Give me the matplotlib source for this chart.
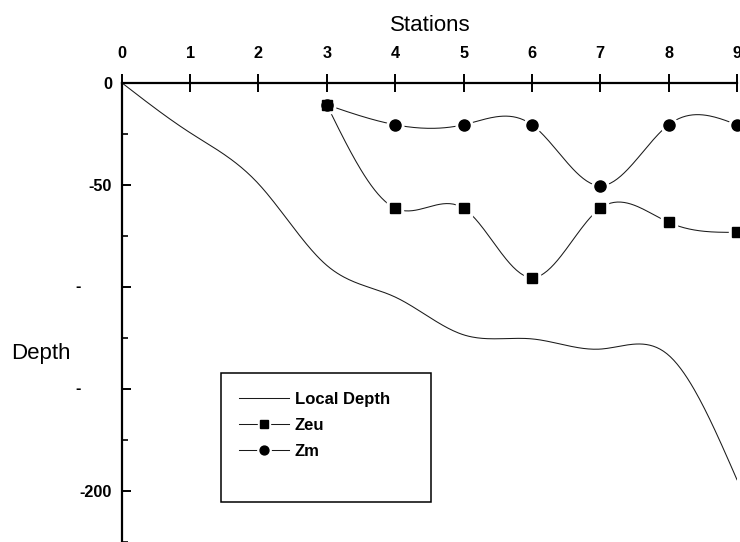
import matplotlib
matplotlib.use('Agg')
import matplotlib.pyplot as plt
from matplotlib.patches import Rectangle
import numpy as np

plt.rcParams['font.family'] = ['Liberation Sans', 'DejaVu Sans']

# data
stations = [0, 1, 2, 3, 4, 5, 6, 7, 8, 9]
local_depth = [0, -24.5, -49.5, -89.5, -105, -123.5, -125.5, -130.5, -133.5, -194.5]
zeu_st = [3, 4, 5, 6, 7, 8, 9]
zeu = [-10.8, -61.5, -61.5, -95.5, -61.5, -68.4, -73.3]
zm_st = [3, 4, 5, 6, 7, 8, 9]
zm = [-10.8, -20.6, -20.6, -20.6, -50.5, -20.6, -20.6]
ytick_vals = [0, -50, -100, -150, -200]
ytick_text = ['0', '-50', '', '', '-200']


def spline(x, y, n=40):
    # natural cubic spline, used only to smooth the drawn line
    x = np.asarray(x, float)
    y = np.asarray(y, float)
    k = len(x)
    h = np.diff(x)
    A = np.zeros((k, k))
    r = np.zeros(k)
    A[0, 0] = A[-1, -1] = 1
    for i in range(1, k - 1):
        A[i, i - 1] = h[i - 1]
        A[i, i] = 2 * (h[i - 1] + h[i])
        A[i, i + 1] = h[i]
        r[i] = 6 * ((y[i + 1] - y[i]) / h[i] - (y[i] - y[i - 1]) / h[i - 1])
    M = np.linalg.solve(A, r)
    xs = np.linspace(x[0], x[-1], n * (k - 1) + 1)
    j = np.clip(np.searchsorted(x, xs) - 1, 0, k - 2)
    hj = h[j]
    a = (x[j + 1] - xs) / hj
    b = (xs - x[j]) / hj
    ys = a * y[j] + b * y[j + 1] + ((a ** 3 - a) * M[j] + (b ** 3 - b) * M[j + 1]) * hj ** 2 / 6
    return xs, ys


fig = plt.figure(figsize=(7.4, 5.42), dpi=100)
ax = fig.add_axes([121.7 / 740, 0, 615.3 / 740, 459.3 / 542])

lc = '#1a1a1a'
xs, ys = spline(stations, local_depth)
l_depth, = ax.plot(xs, ys, color=lc, lw=0.75, label='Local Depth')

xs, ys = spline(zeu_st, zeu)
l_zeu, = ax.plot(xs, ys, color=lc, lw=0.75)
h_zeu, = ax.plot(zeu_st, zeu, ls='none', marker='s', ms=11, mfc='white', mec='white', zorder=3, clip_on=False)
m_zeu, = ax.plot(zeu_st, zeu, ls='none', marker='s', ms=7.3, mfc='black', mec='black', zorder=4, clip_on=False)

xs, ys = spline(zm_st, zm)
l_zm, = ax.plot(xs, ys, color=lc, lw=0.75)
h_zm, = ax.plot(zm_st, zm, ls='none', marker='o', ms=12, mfc='white', mec='white', zorder=3, clip_on=False)
m_zm, = ax.plot(zm_st, zm, ls='none', marker='o', ms=8, mfc='black', mec='black', zorder=4, clip_on=False)

ax.set_xlim(0, 9)
ax.set_ylim(-222.3, 0)

for s in ['right', 'bottom']:
    ax.spines[s].set_visible(False)
for s in ['left', 'top']:
    ax.spines[s].set_linewidth(1.6)

ax.xaxis.tick_top()
ax.set_xticks(stations)
ax.tick_params(axis='x', direction='inout', length=13.5, width=1.4, pad=9,
               labelsize=11.7)
for t in ax.get_xticklabels():
    t.set_fontweight('bold')

ax.set_yticks(ytick_vals)
ax.set_yticklabels(ytick_text)
ax.set_yticks(np.arange(-225, 0, 50), minor=True)
ax.tick_params(axis='y', which='major', direction='in', length=6.5, width=1.4, pad=7,
               labelsize=11.7)
ax.tick_params(axis='y', which='minor', direction='in', length=4, width=1.2)
for t in ax.get_yticklabels():
    t.set_fontweight('bold')
# faded labels at -100 and -150 show only their minus sign
for v in [-100, -150]:
    ax.text(-0.0759, v, '-', transform=ax.get_yaxis_transform(), ha='left', va='center',
            fontsize=11.7, fontweight='bold', clip_on=False)

ax.set_xlabel('Stations', fontsize=16)
ax.xaxis.set_label_position('top')
ax.xaxis.set_label_coords(0.501, 1.125)
ax.xaxis.label.set_va('center')
ax.set_ylabel('Depth', fontsize=16, rotation=0, ha='center', va='center')
ax.yaxis.set_label_coords(-0.131, 0.411)

fig.patches.append(Rectangle((220.7 / 740, 1 - 501.7 / 542), 210 / 740, 129 / 542,
                             transform=fig.transFigure, fill=False, ec='black', lw=1.1))
leg = ax.legend([l_depth, (l_zeu, h_zeu, m_zeu), (l_zm, h_zm, m_zm)],
                ['Local Depth', 'Zeu', 'Zm'],
                loc='upper left', bbox_to_anchor=(239 / 740, 1 - 392 / 542),
                bbox_transform=fig.transFigure, frameon=False, borderpad=0,
                borderaxespad=0, handlelength=3.0, handletextpad=0.35,
                labelspacing=0.65, numpoints=1, markerscale=0.8,
                prop={'size': 12, 'weight': 'bold'})

fig.savefig('out.png', dpi=100)
